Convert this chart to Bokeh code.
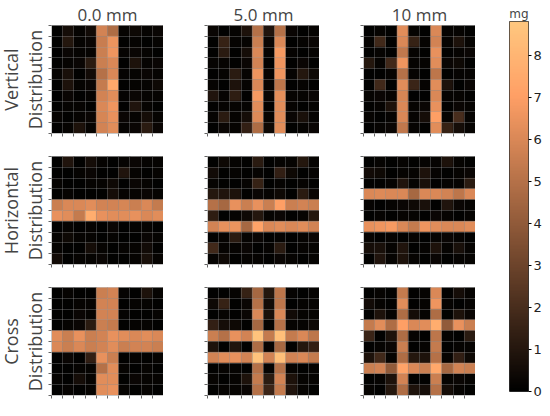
import numpy as np
from bokeh.plotting import figure
from bokeh.models import ColumnDataSource, LinearColorMapper, FixedTicker, Title
from bokeh.layouts import row, column
from bokeh.embed import file_html
from bokeh.resources import INLINE
from bokeh.transform import transform

# ---------------- data (rows listed top -> bottom, 10 x 10 cells, mg) ----------------
col_titles = ["0.0 mm", "5.0 mm", "10 mm"]
row_titles = [("Vertical", "Distribution"), ("Horizontal", "Distribution"), ("Cross", "Distribution")]
cbar_ticks = [0, 1, 2, 3, 4, 5, 6, 7, 8]
cbar_max = 8.8

vertical_0mm = [
    [0.1, 0.6, 0.2, 0.5, 5.8, 4.8, 0.2, 0.4, 0.2, 0.3],
    [0.1, 1.0, 0.2, 0.3, 5.5, 6.5, 0.1, 0.2, 0.1, 0.2],
    [0.0, 0.3, 0.2, 0.2, 5.6, 6.6, 0.2, 0.3, 0.2, 0.1],
    [0.1, 0.2, 0.3, 1.2, 5.6, 6.0, 0.1, 0.8, 0.2, 0.3],
    [0.2, 0.7, 0.1, 0.5, 5.0, 6.0, 0.2, 0.2, 0.3, 0.2],
    [0.1, 0.8, 0.2, 0.3, 5.4, 7.4, 0.1, 0.2, 0.2, 0.4],
    [0.0, 0.3, 0.1, 0.2, 5.8, 6.2, 0.2, 0.3, 0.2, 0.2],
    [0.1, 0.2, 0.2, 0.1, 6.0, 6.6, 0.1, 0.9, 0.2, 0.1],
    [0.2, 0.1, 0.2, 0.3, 5.9, 6.4, 0.3, 0.2, 0.6, 0.2],
    [0.1, 0.2, 0.8, 0.2, 5.8, 6.2, 0.2, 0.3, 1.2, 0.3],
]
vertical_5mm = [
    [0.3, 0.1, 0.2, 0.8, 5.0, 0.9, 5.0, 0.3, 0.1, 0.2],
    [0.1, 1.5, 0.2, 0.2, 5.6, 0.3, 6.0, 0.1, 0.2, 0.3],
    [0.1, 1.2, 0.1, 0.6, 6.0, 0.2, 6.8, 0.2, 0.1, 0.2],
    [0.2, 0.2, 0.1, 0.3, 5.8, 0.1, 6.6, 0.1, 0.3, 0.1],
    [0.1, 0.2, 1.2, 0.2, 6.5, 0.2, 6.6, 0.2, 1.0, 0.4],
    [0.2, 0.1, 0.8, 0.2, 6.0, 0.2, 5.2, 0.1, 0.2, 0.1],
    [0.9, 0.2, 1.3, 0.1, 6.8, 0.3, 6.3, 0.2, 0.2, 0.3],
    [0.1, 0.2, 0.2, 0.2, 6.2, 0.1, 6.2, 0.2, 0.1, 0.2],
    [0.2, 1.2, 0.2, 0.6, 6.1, 0.2, 6.2, 0.3, 0.7, 0.2],
    [0.1, 0.3, 0.2, 1.4, 4.8, 0.4, 6.2, 0.1, 0.2, 0.3],
]
vertical_10mm = [
    [0.1, 0.2, 0.1, 6.2, 0.2, 0.1, 6.0, 0.2, 0.2, 0.1],
    [0.2, 1.8, 0.1, 6.0, 1.5, 0.2, 5.8, 0.2, 0.8, 0.2],
    [0.1, 0.2, 0.1, 5.3, 0.2, 0.1, 6.4, 0.1, 0.2, 0.3],
    [1.0, 0.2, 1.8, 6.6, 0.2, 0.2, 6.2, 0.3, 0.4, 0.1],
    [0.1, 0.1, 0.2, 5.0, 0.2, 0.1, 5.2, 0.1, 0.2, 0.2],
    [0.1, 1.8, 0.1, 6.2, 1.6, 0.2, 6.2, 0.8, 0.1, 0.3],
    [0.2, 0.3, 0.2, 5.9, 0.1, 0.1, 6.0, 0.2, 0.2, 0.1],
    [0.1, 0.2, 0.8, 6.0, 0.2, 0.3, 6.4, 0.1, 0.3, 0.2],
    [0.2, 0.1, 0.2, 6.0, 0.2, 0.6, 7.0, 0.2, 2.0, 0.2],
    [0.1, 0.2, 0.3, 5.3, 0.2, 0.1, 6.2, 1.5, 0.6, 0.2],
]
horizontal_0mm = [
    [0.1, 0.9, 0.1, 0.6, 0.2, 0.1, 0.2, 0.3, 0.2, 0.2],
    [0.1, 0.1, 0.2, 0.3, 0.1, 0.1, 0.9, 0.2, 0.1, 0.2],
    [0.2, 0.1, 0.1, 0.2, 0.2, 0.4, 0.1, 0.3, 0.2, 0.1],
    [0.1, 0.2, 0.1, 0.1, 0.1, 0.6, 0.2, 0.2, 0.3, 0.2],
    [5.6, 6.0, 6.0, 6.2, 5.8, 5.8, 5.9, 5.6, 6.0, 5.4],
    [6.4, 6.2, 5.4, 7.6, 6.4, 6.2, 6.2, 6.4, 6.0, 6.2],
    [0.1, 0.2, 0.1, 0.2, 0.1, 0.3, 0.1, 0.2, 0.2, 0.1],
    [0.2, 0.4, 0.2, 0.2, 0.1, 0.2, 0.1, 0.1, 0.3, 0.2],
    [0.2, 0.1, 0.1, 0.6, 0.2, 0.1, 0.2, 0.2, 0.5, 0.1],
    [0.5, 0.1, 0.2, 0.2, 0.3, 0.1, 0.1, 0.2, 0.7, 0.2],
]
horizontal_5mm = [
    [0.1, 0.4, 0.2, 0.1, 1.2, 0.1, 0.2, 0.2, 1.0, 0.2],
    [0.5, 0.1, 0.2, 0.1, 0.2, 0.1, 1.4, 0.4, 0.1, 0.2],
    [0.2, 0.1, 0.1, 0.2, 1.5, 0.1, 0.2, 0.1, 0.2, 0.1],
    [1.0, 0.9, 0.8, 0.1, 0.3, 0.2, 0.4, 0.1, 1.2, 0.3],
    [5.0, 4.6, 6.4, 5.6, 6.4, 5.6, 7.0, 5.6, 5.8, 5.6],
    [1.3, 0.1, 0.2, 0.4, 1.0, 0.2, 0.3, 0.1, 0.2, 1.0],
    [5.8, 6.4, 6.5, 4.6, 7.2, 6.0, 6.2, 6.0, 6.2, 5.8],
    [0.1, 0.2, 1.2, 0.2, 0.3, 0.1, 0.2, 0.1, 0.2, 0.3],
    [1.8, 0.2, 0.2, 0.3, 0.1, 0.2, 1.2, 0.1, 0.2, 0.2],
    [0.2, 0.4, 0.1, 0.2, 0.2, 0.1, 0.3, 0.2, 0.1, 0.2],
]
horizontal_10mm = [
    [0.1, 0.2, 0.1, 0.2, 0.1, 0.2, 0.2, 0.8, 0.2, 0.1],
    [0.5, 0.4, 0.1, 0.2, 0.2, 0.8, 0.2, 0.1, 0.2, 0.3],
    [0.1, 0.1, 0.2, 0.9, 0.2, 0.7, 0.1, 0.2, 0.2, 1.2],
    [6.0, 6.1, 6.0, 6.0, 4.6, 6.0, 6.0, 5.8, 5.2, 6.0],
    [0.2, 0.1, 0.2, 0.3, 0.4, 0.7, 0.1, 0.9, 0.3, 0.2],
    [0.1, 0.2, 0.1, 0.2, 0.2, 0.1, 0.3, 0.2, 0.1, 0.2],
    [6.4, 6.6, 6.8, 6.0, 5.4, 6.6, 6.2, 6.0, 6.0, 6.2],
    [0.2, 0.1, 0.2, 0.1, 0.2, 0.1, 0.2, 0.3, 0.2, 0.1],
    [0.6, 0.7, 0.2, 0.9, 0.1, 0.2, 0.8, 0.2, 0.7, 0.2],
    [0.1, 0.9, 0.2, 0.8, 0.2, 0.1, 0.3, 0.1, 0.2, 0.2],
]
cross_0mm = [
    [0.1, 0.2, 0.1, 0.1, 5.6, 5.8, 0.2, 0.1, 0.8, 0.2],
    [0.1, 0.1, 0.2, 0.2, 5.8, 5.8, 0.1, 0.2, 0.2, 0.1],
    [0.1, 0.1, 0.3, 0.2, 5.8, 5.8, 0.2, 0.1, 0.1, 0.2],
    [0.1, 0.2, 0.3, 1.2, 5.6, 5.4, 0.1, 0.2, 0.2, 0.1],
    [6.2, 5.6, 6.4, 5.6, 5.8, 6.4, 6.2, 6.0, 6.2, 6.0],
    [6.0, 5.6, 6.0, 5.6, 5.8, 6.2, 5.6, 5.8, 5.8, 5.6],
    [0.1, 0.3, 0.1, 1.4, 6.4, 5.6, 0.1, 0.2, 0.1, 0.2],
    [0.1, 0.1, 0.2, 0.2, 5.0, 6.2, 0.2, 0.1, 0.2, 0.1],
    [0.2, 0.1, 0.6, 0.2, 6.2, 6.2, 0.1, 0.3, 0.2, 0.2],
    [0.1, 0.2, 0.1, 0.2, 6.2, 6.4, 0.2, 0.1, 0.2, 0.1],
]
cross_5mm = [
    [0.1, 0.1, 0.2, 1.5, 4.6, 1.0, 5.2, 0.2, 0.1, 0.2],
    [0.4, 1.5, 0.1, 0.3, 5.0, 0.5, 5.2, 0.1, 0.2, 0.2],
    [0.1, 0.2, 0.1, 0.3, 6.0, 0.7, 6.0, 0.5, 0.2, 0.2],
    [1.4, 0.6, 0.4, 0.1, 4.6, 0.2, 5.0, 0.2, 0.2, 0.4],
    [5.6, 5.0, 6.4, 5.8, 8.6, 5.4, 8.4, 5.4, 6.0, 5.2],
    [0.8, 0.1, 0.9, 0.1, 4.8, 0.2, 4.6, 0.1, 1.0, 1.4],
    [5.8, 6.2, 6.4, 5.8, 8.6, 5.8, 8.4, 5.8, 6.0, 5.4],
    [0.1, 0.2, 0.2, 0.1, 5.0, 0.2, 5.0, 0.2, 0.1, 0.2],
    [0.2, 0.1, 0.2, 0.8, 5.4, 1.2, 5.8, 0.8, 0.2, 0.2],
    [0.1, 0.2, 0.2, 0.3, 5.0, 1.6, 5.4, 0.9, 0.2, 0.1],
]
cross_10mm = [
    [0.1, 0.2, 0.1, 5.4, 0.1, 0.2, 6.0, 0.1, 0.6, 0.2],
    [0.5, 0.2, 0.1, 6.2, 0.1, 0.2, 6.6, 0.2, 0.1, 0.2],
    [0.1, 0.8, 0.2, 4.8, 0.6, 0.2, 4.8, 0.1, 0.8, 0.3],
    [5.4, 6.2, 4.8, 7.0, 6.0, 6.2, 7.6, 4.0, 6.4, 5.6],
    [1.6, 0.1, 0.8, 4.8, 0.2, 0.1, 5.2, 0.2, 0.1, 1.2],
    [0.1, 0.2, 0.3, 5.6, 0.1, 0.2, 5.4, 0.1, 0.2, 0.2],
    [0.8, 1.8, 0.2, 4.8, 1.0, 0.8, 5.0, 0.2, 1.4, 0.4],
    [5.6, 5.8, 4.0, 7.2, 6.0, 5.6, 7.4, 4.6, 5.8, 5.6],
    [0.1, 0.2, 0.8, 5.8, 0.1, 0.1, 5.6, 0.2, 0.3, 0.2],
    [0.2, 0.1, 1.0, 4.8, 0.8, 0.6, 5.0, 0.6, 0.2, 0.1],
]

grids = [
    [vertical_0mm, vertical_5mm, vertical_10mm],
    [horizontal_0mm, horizontal_5mm, horizontal_10mm],
    [cross_0mm, cross_5mm, cross_10mm],
]

# ---------------- colour map (matplotlib "copper") ----------------
copper = []
for i in range(256):
    t = i / 255.0
    r, g, b = min(1.0, 1.25 * t), 0.7812 * t, 0.4975 * t
    copper.append("#%02x%02x%02x" % (round(r * 255), round(g * 255), round(b * 255)))
mapper = LinearColorMapper(palette=copper, low=0, high=cbar_max)

FW, FH = 112, 108
GAP_X, GAP_Y = 44, 23
TOP = 21
TITLE_FONT = "Open Sans"


def make_panel(mat, r, c):
    arr = np.array(mat, dtype=float)
    nr, nc = arr.shape
    rows_idx, cols_idx = np.indices(arr.shape)
    src = ColumnDataSource(dict(
        left=cols_idx.ravel().astype(float),
        right=cols_idx.ravel() + 1.0,
        top=(nr - rows_idx.ravel()).astype(float),
        bottom=(nr - rows_idx.ravel() - 1).astype(float),
        v=arr.ravel(),
    ))
    p = figure(frame_width=FW, frame_height=FH, x_range=(0, nc), y_range=(0, nr),
               output_backend="svg", toolbar_location=None,
               min_border_left=0 if c == 0 else GAP_X, min_border_right=0,
               min_border_top=TOP if r == 0 else 0,
               min_border_bottom=GAP_Y if r < 2 else 4)
    p.quad(left="left", right="right", top="top", bottom="bottom", source=src,
           fill_color=transform("v", mapper), line_color=transform("v", mapper), line_width=0.5)
    for ax in (p.xaxis[0], p.yaxis[0]):
        ax.ticker = FixedTicker(ticks=[], minor_ticks=list(range(0, nc + 1)))
        ax.minor_tick_out = 3
        ax.minor_tick_in = 0
        ax.minor_tick_line_color = "#666666"
        ax.major_tick_line_color = None
        ax.axis_line_color = "#c8c8c8"
    p.xgrid.ticker = FixedTicker(ticks=list(range(1, nc)))
    p.ygrid.ticker = FixedTicker(ticks=list(range(1, nr)))
    p.grid.grid_line_color = "#9a9a9a"
    p.grid.grid_line_alpha = 0.35
    p.grid.level = "overlay"
    p.outline_line_color = "#c8c8c8"
    p.background_fill_color = "black"
    if r == 0:
        p.title.text = col_titles[c]
        p.title.align = "center"
        p.title.text_font = TITLE_FONT
        p.title.text_font_size = "17px"
        p.title.text_font_style = "normal"
        p.title.standoff = 0
    if c == 0:
        inner, outer = row_titles[r][1], row_titles[r][0]
        p.add_layout(Title(text=inner, align="center", text_font=TITLE_FONT,
                           text_font_size="18px", text_font_style="normal",
                           standoff=3), "left")
        p.add_layout(Title(text=outer, align="center", text_font=TITLE_FONT,
                           text_font_size="18px", text_font_style="normal",
                           standoff=-7), "left")
    return p


panels = [[make_panel(grids[r][c], r, c) for c in range(3)] for r in range(3)]

# ---------------- colour bar ----------------
cb = figure(frame_width=19, frame_height=3 * FH + 2 * GAP_Y, x_range=(0, 1), y_range=(0, cbar_max),
            output_backend="svg", toolbar_location=None, y_axis_location="right",
            min_border_left=34, min_border_right=2, min_border_top=TOP, min_border_bottom=9)
grad = np.linspace(0, cbar_max, 512).reshape(-1, 1)
cb.image(image=[grad], x=0, y=0, dw=1, dh=cbar_max, color_mapper=mapper)
cb.xaxis.visible = False
cb.grid.visible = False
cb.yaxis.ticker = FixedTicker(ticks=cbar_ticks)
cb.yaxis.major_label_text_font = "DejaVu Sans"
cb.yaxis.major_label_text_font_size = "13px"
cb.yaxis.major_label_text_color = "#222222"
cb.yaxis.major_label_standoff = 2
cb.yaxis.major_tick_out = 3
cb.yaxis.major_tick_in = 0
cb.yaxis.minor_tick_line_color = None
cb.yaxis.axis_line_color = None
cb.outline_line_color = "#333333"
cb.title.text = "mg"
cb.title.align = "center"
cb.title.text_font = "DejaVu Sans"
cb.title.text_font_size = "12px"
cb.title.text_font_style = "normal"
cb.title.standoff = 1

layout = row(column(*[row(*r_) for r_ in panels]), cb)

open("out.html", "w").write(file_html(layout, INLINE))
